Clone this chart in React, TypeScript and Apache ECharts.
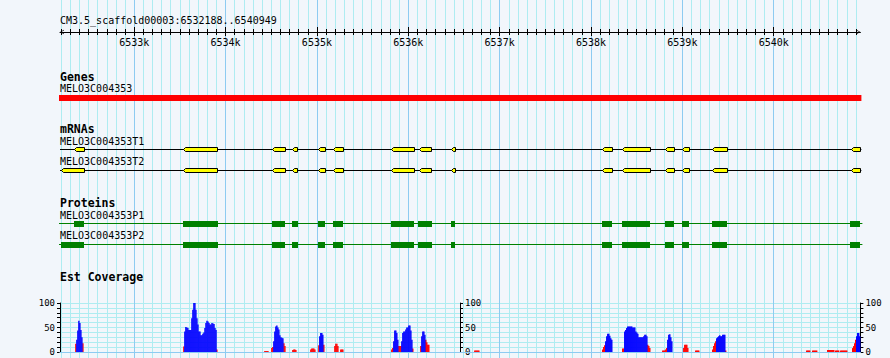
import React, { useEffect, useRef } from 'react';
import * as echarts from 'echarts';

// ---------------- data ----------------
const START = 6532188;
const END = 6540949;
const rulerTitle = 'CM3.5_scaffold00003:6532188..6540949';
const majorTicks = [6533000, 6534000, 6535000, 6536000, 6537000, 6538000, 6539000, 6540000];
const minorTicks: number[] = [];
for (let v = 6532200; v < END; v += 100) if (v % 1000 !== 0) minorTicks.push(v);

const trackTitles = ['Genes', 'mRNAs', 'Proteins', 'Est Coverage'];
const geneName = 'MELO3C004353';
const geneSpan = [6532188, 6540949];

const transcriptNames = ['MELO3C004353T1', 'MELO3C004353T2'];
const transcriptSpans = [
  [6532188, 6540949],
  [6532188, 6540949],
];
const t1Exons = [
  [6532343, 6532453], [6533536, 6533908], [6534510, 6534652], [6534725, 6534784],
  [6535013, 6535090], [6535177, 6535287], [6535812, 6536064], [6536118, 6536250],
  [6536469, 6536512], [6538121, 6538230], [6538340, 6538646], [6538810, 6538909],
  [6538996, 6539073], [6539324, 6539489], [6540845, 6540949],
];
const t2Exons = [
  [6532195, 6532453], [6533536, 6533908], [6534510, 6534652], [6534725, 6534784],
  [6535013, 6535090], [6535177, 6535287], [6535812, 6536064], [6536118, 6536250],
  [6536469, 6536512], [6538121, 6538230], [6538340, 6538646], [6538810, 6538909],
  [6538996, 6539073], [6539324, 6539489], [6540845, 6540949],
];
const proteinNames = ['MELO3C004353P1', 'MELO3C004353P2'];
const proteinSpans = [
  [6532188, 6540949],
  [6532188, 6540949],
];
const p1Blocks = [
  [6532338, 6532456], [6533530, 6533912], [6534505, 6534655], [6534722, 6534788],
  [6535008, 6535094], [6535172, 6535291], [6535808, 6536068], [6536112, 6536255],
  [6536465, 6536516], [6538116, 6538234], [6538335, 6538650], [6538805, 6538913],
  [6538992, 6539077], [6539320, 6539493], [6540840, 6540949],
];
const p2Blocks = [
  [6532200, 6532456], [6533530, 6533912], [6534505, 6534655], [6534722, 6534788],
  [6535008, 6535094], [6535172, 6535291], [6535808, 6536068], [6536112, 6536255],
  [6536465, 6536516], [6538116, 6538234], [6538335, 6538650], [6538805, 6538913],
  [6538992, 6539077], [6539320, 6539493], [6540840, 6540949],
];

// EST coverage: runs of fixed 11-bp bins [runStart, values]
const covBin = 11;
const covLabels = [0, 50, 100];
const covBlueRuns: [number, number[]][] = [
  [6532365, [25, 44, 64, 59, 45, 30]],
  [6533547, [42, 51, 50, 49, 45, 45, 45, 69, 86, 100, 100, 86, 69, 56, 42, 42, 34, 34, 37, 40, 49, 59, 64, 62, 59, 56, 56, 59, 58, 57, 49, 45]],
  [6534521, [22, 42, 52, 54, 50, 46, 34, 30, 29, 28]],
  [6535024, [32, 39, 39, 35]],
  [6535834, [22, 44, 44, 39, 25]],
  [6535922, [22, 39, 42, 42, 46, 50, 50, 54, 54, 44, 25]],
  [6536141, [32, 42, 42, 35]],
  [6538154, [22, 32, 37, 37, 33, 28, 25]],
  [6538362, [42, 45, 49, 52, 52, 52, 52, 52, 50, 50, 50, 42, 40, 37, 30, 30, 30, 30, 30, 32, 35, 35, 32]],
  [6538833, [25, 35, 36, 30, 22]],
  [6539369, [28, 30, 32, 34, 32, 32, 35, 35, 35]],
  [6540901, [32, 39, 39, 32]],
];
const covRedRuns: [number, number[]][] = [
  [6532354, [17]],
  [6532431, [18]],
  [6533536, [11]],
  [6533897, [5]],
  [6534423, [2, 2, 2, 2]],
  [6534499, [8, 10]],
  [6534631, [18, 12]],
  [6534729, [4, 5, 5, 4]],
  [6534926, [5, 7, 7, 7, 5]],
  [6535014, [14]],
  [6535068, [15]],
  [6535189, [12, 17, 17, 12]],
  [6535254, [5, 5, 5]],
  [6535812, [5, 8]],
  [6535889, [12, 12, 12]],
  [6536042, [7]],
  [6536130, [12]],
  [6536184, [25, 20, 15, 15]],
  [6536721, [3, 3, 3, 3, 3]],
  [6538121, [5, 10, 14]],
  [6538340, [7, 7]],
  [6538614, [15, 12, 8]],
  [6538778, [3, 3, 3, 5, 8]],
  [6539008, [8, 15, 15, 15, 8]],
  [6539139, [3, 3, 3, 3]],
  [6539325, [5, 12, 18, 22]],
  [6539467, [3]],
  [6540354, [3, 3, 3, 3]],
  [6540419, [3, 3, 3, 3, 3]],
  [6540584, [4, 4, 4, 4, 4, 4, 4]],
  [6540671, [3, 3, 3, 3]],
  [6540726, [3, 3, 3, 3, 3, 3, 3]],
  [6540857, [8, 12, 18, 25]],
];

// ---------------- layout / style ----------------
const BG = '#f2f6fb';
const MINOR_GRID = '#aeecf1';
const MAJOR_GRID = '#8ecbf1';
const MONO = '"DejaVu Sans Mono", monospace';
const PLOT = { left: 60, right: 29.6 };
const RULER_Y = 32;
const GENE_BAR = { y: 95, h: 6 };
const MRNA_Y = [149.5, 170.5];
const PROT_Y = [223.5, 244.5];
const COV = { top: 303, height: 49 };
const exonsByTranscript = [t1Exons, t2Exons];
const blocksByProtein = [p1Blocks, p2Blocks];

const binItems = (runs: [number, number[]][]) =>
  runs.flatMap(([s, vals]) => vals.map((v, i) => [s + i * covBin, s + (i + 1) * covBin, v]));

const arrowPath = 'path://M5,0 L10,9 L8.6,9 L5,2.4 L1.4,9 L0,9 Z';

const fullGrid = { left: PLOT.left, right: PLOT.right, top: 0, bottom: 0, outerBoundsMode: 'none' };
const hiddenX = (gridIndex: number, position: string, extra: any = {}) => ({
  type: 'value',
  gridIndex,
  position,
  min: START,
  max: END,
  axisLine: { show: false, onZero: false },
  axisTick: { show: false },
  axisLabel: { show: false },
  splitLine: { show: false },
  ...extra,
});
const hiddenY = (gridIndex: number) => ({ type: 'value', gridIndex, min: 0, max: 1, show: false, splitLine: { show: false } });

const covY = (position: string, offset: number, inside: boolean, withSplit: boolean) => ({
  type: 'value',
  gridIndex: 3,
  position,
  offset,
  min: 0,
  max: 100,
  interval: 10,
  axisLine: { show: true, lineStyle: { color: '#000', width: 1 } },
  axisTick: { show: true, inside, length: 3, lineStyle: { color: '#000' } },
  axisLabel: {
    show: true,
    inside,
    margin: 5,
    fontFamily: MONO,
    fontSize: 9,
    color: '#000',
    formatter: (v: number) => (covLabels.includes(v) ? String(v) : ''),
  },
  splitLine: withSplit ? { show: true, lineStyle: { color: MINOR_GRID, width: 1 } } : { show: false },
});

const textEl = (text: string, x: number, y: number, bold = false) => ({
  type: 'text',
  x,
  y,
  z: 100,
  style: {
    text,
    font: `${bold ? 'bold 11.5px' : '10px'} ${MONO}`,
    fill: '#000',
    align: 'left',
    verticalAlign: 'middle',
  },
});

const option: any = {
  animation: false,
  backgroundColor: BG,
  textStyle: { fontFamily: MONO },
  grid: [
    { ...fullGrid },
    { ...fullGrid },
    { ...fullGrid },
    { left: PLOT.left, right: PLOT.right, top: COV.top, height: COV.height, outerBoundsMode: 'none' },
  ],
  xAxis: [
    hiddenX(0, 'bottom', { axisTick: { show: false, customValues: minorTicks }, splitLine: { show: true, lineStyle: { color: MINOR_GRID, width: 1 } } }),
    hiddenX(0, 'top', { axisTick: { show: false, customValues: majorTicks }, splitLine: { show: true, lineStyle: { color: MAJOR_GRID, width: 1 } } }),
    hiddenX(1, 'top', {
      offset: -RULER_Y,
      z: 2,
      axisLine: {
        show: true,
        onZero: false,
        lineStyle: { color: '#000', width: 1 },
        symbol: [arrowPath, arrowPath],
        symbolSize: [9, 4],
        symbolOffset: [2, -2],
      },
      axisTick: { show: true, customValues: majorTicks, length: 5, lineStyle: { color: '#000' } },
      axisLabel: {
        show: true,
        customValues: majorTicks,
        inside: true,
        margin: 5,
        fontFamily: MONO,
        fontSize: 10,
        color: '#000',
        formatter: (v: number) => `${Math.round(v / 1000)}k`,
      },
    }),
    hiddenX(1, 'bottom', {
      offset: -(358 - RULER_Y),
      z: 2,
      axisTick: { show: true, customValues: majorTicks, length: 4, lineStyle: { color: '#000' } },
    }),
    hiddenX(2, 'top', {
      offset: -RULER_Y,
      z: 2,
      axisTick: { show: true, customValues: minorTicks, length: 3, lineStyle: { color: '#000' } },
    }),
    hiddenX(2, 'bottom', {
      offset: -(358 - RULER_Y),
      z: 2,
      axisTick: { show: true, customValues: minorTicks, length: 3, lineStyle: { color: '#000' } },
    }),
    hiddenX(3, 'bottom', { z: 1, axisLine: { show: true, onZero: false, lineStyle: { color: MAJOR_GRID, width: 1 } } }),
  ],
  yAxis: [
    hiddenY(0),
    hiddenY(1),
    hiddenY(2),
    covY('left', 0, false, true),
    covY('left', -400, true, false),
    covY('right', 0, false, false),
  ],
  graphic: [
    textEl(rulerTitle, 60, 20.5),
    textEl(trackTitles[0], 60, 76.5, true),
    textEl(geneName, 60, 88.5),
    textEl(trackTitles[1], 60, 129, true),
    textEl(transcriptNames[0], 60, 141.5),
    textEl(transcriptNames[1], 60, 161.5),
    textEl(trackTitles[2], 60, 202.5, true),
    textEl(proteinNames[0], 60, 215),
    textEl(proteinNames[1], 60, 235.5),
    textEl(trackTitles[3], 60, 276.5, true),
  ],
  series: [
    {
      type: 'custom',
      name: 'Genes',
      xAxisIndex: 0,
      yAxisIndex: 0,
      data: [[geneSpan[0], geneSpan[1]]],
      renderItem: (_p: any, api: any) => {
        const a = api.coord([api.value(0), 0]);
        const b = api.coord([api.value(1), 0]);
        return {
          type: 'rect',
          shape: { x: a[0] - 1, y: GENE_BAR.y, width: b[0] - a[0] + 2, height: GENE_BAR.h },
          style: { fill: '#ff0000' },
        };
      },
    },
    {
      type: 'custom',
      name: 'mRNAs',
      xAxisIndex: 0,
      yAxisIndex: 0,
      data: transcriptSpans.map((s, i) => [s[0], s[1], i]),
      renderItem: (_p: any, api: any) => {
        const idx = api.value(2);
        const cy = MRNA_Y[idx];
        const a = api.coord([api.value(0), 0])[0];
        const b = api.coord([api.value(1), 0])[0];
        const children: any[] = [
          { type: 'line', shape: { x1: a, y1: cy, x2: b + 1, y2: cy }, style: { stroke: '#000', lineWidth: 1 } },
        ];
        for (const [s, e] of exonsByTranscript[idx]) {
          const x1 = Math.round(api.coord([s, 0])[0]) + 0.5;
          const x2 = Math.round(api.coord([e, 0])[0]) + 0.5;
          const bev = Math.min(2, (x2 - x1) / 2);
          children.push({
            type: 'polygon',
            shape: { points: [[x1, cy], [x1 + bev, cy - 2], [x2, cy - 2], [x2, cy + 2], [x1 + bev, cy + 2]] },
            style: { fill: '#ffff00', stroke: '#000', lineWidth: 1 },
          });
        }
        return { type: 'group', children };
      },
    },
    {
      type: 'custom',
      name: 'Proteins',
      xAxisIndex: 0,
      yAxisIndex: 0,
      data: proteinSpans.map((s, i) => [s[0], s[1], i]),
      renderItem: (_p: any, api: any) => {
        const idx = api.value(2);
        const cy = PROT_Y[idx];
        const a = api.coord([api.value(0), 0])[0];
        const b = api.coord([api.value(1), 0])[0];
        const children: any[] = [
          { type: 'line', shape: { x1: a - 1, y1: cy, x2: b + 2, y2: cy }, style: { stroke: '#008000', lineWidth: 1 } },
        ];
        for (const [s, e] of blocksByProtein[idx]) {
          const x1 = Math.round(api.coord([s, 0])[0]);
          const x2 = Math.round(api.coord([e, 0])[0]);
          children.push({
            type: 'rect',
            shape: { x: x1, y: Math.floor(cy) - 2, width: x2 - x1, height: 6 },
            style: { fill: '#008000' },
          });
        }
        return { type: 'group', children };
      },
    },
    ...[
      { name: 'EST coverage (red)', runs: covRedRuns, color: '#ff0000' },
      { name: 'EST coverage (blue)', runs: covBlueRuns, color: '#0000ff' },
    ].map((s) => ({
      type: 'custom',
      name: s.name,
      xAxisIndex: 6,
      yAxisIndex: 3,
      z: 5,
      data: binItems(s.runs),
      renderItem: (_p: any, api: any) => {
        const p0 = api.coord([api.value(0), 0]);
        const p1 = api.coord([api.value(1), api.value(2)]);
        return {
          type: 'rect',
          shape: { x: p0[0], y: p1[1], width: p1[0] - p0[0] + 0.4, height: p0[1] - p1[1] },
          style: { fill: s.color },
        };
      },
    })),
  ],
};

export default function App() {
  const ref = useRef<HTMLDivElement>(null);
  useEffect(() => {
    document.body.style.margin = '0';
    const chart = echarts.init(ref.current!, null, { renderer: 'svg' });
    chart.setOption(option);
    return () => chart.dispose();
  }, []);
  return <div ref={ref} style={{ width: 890, height: 358 }} />;
}
